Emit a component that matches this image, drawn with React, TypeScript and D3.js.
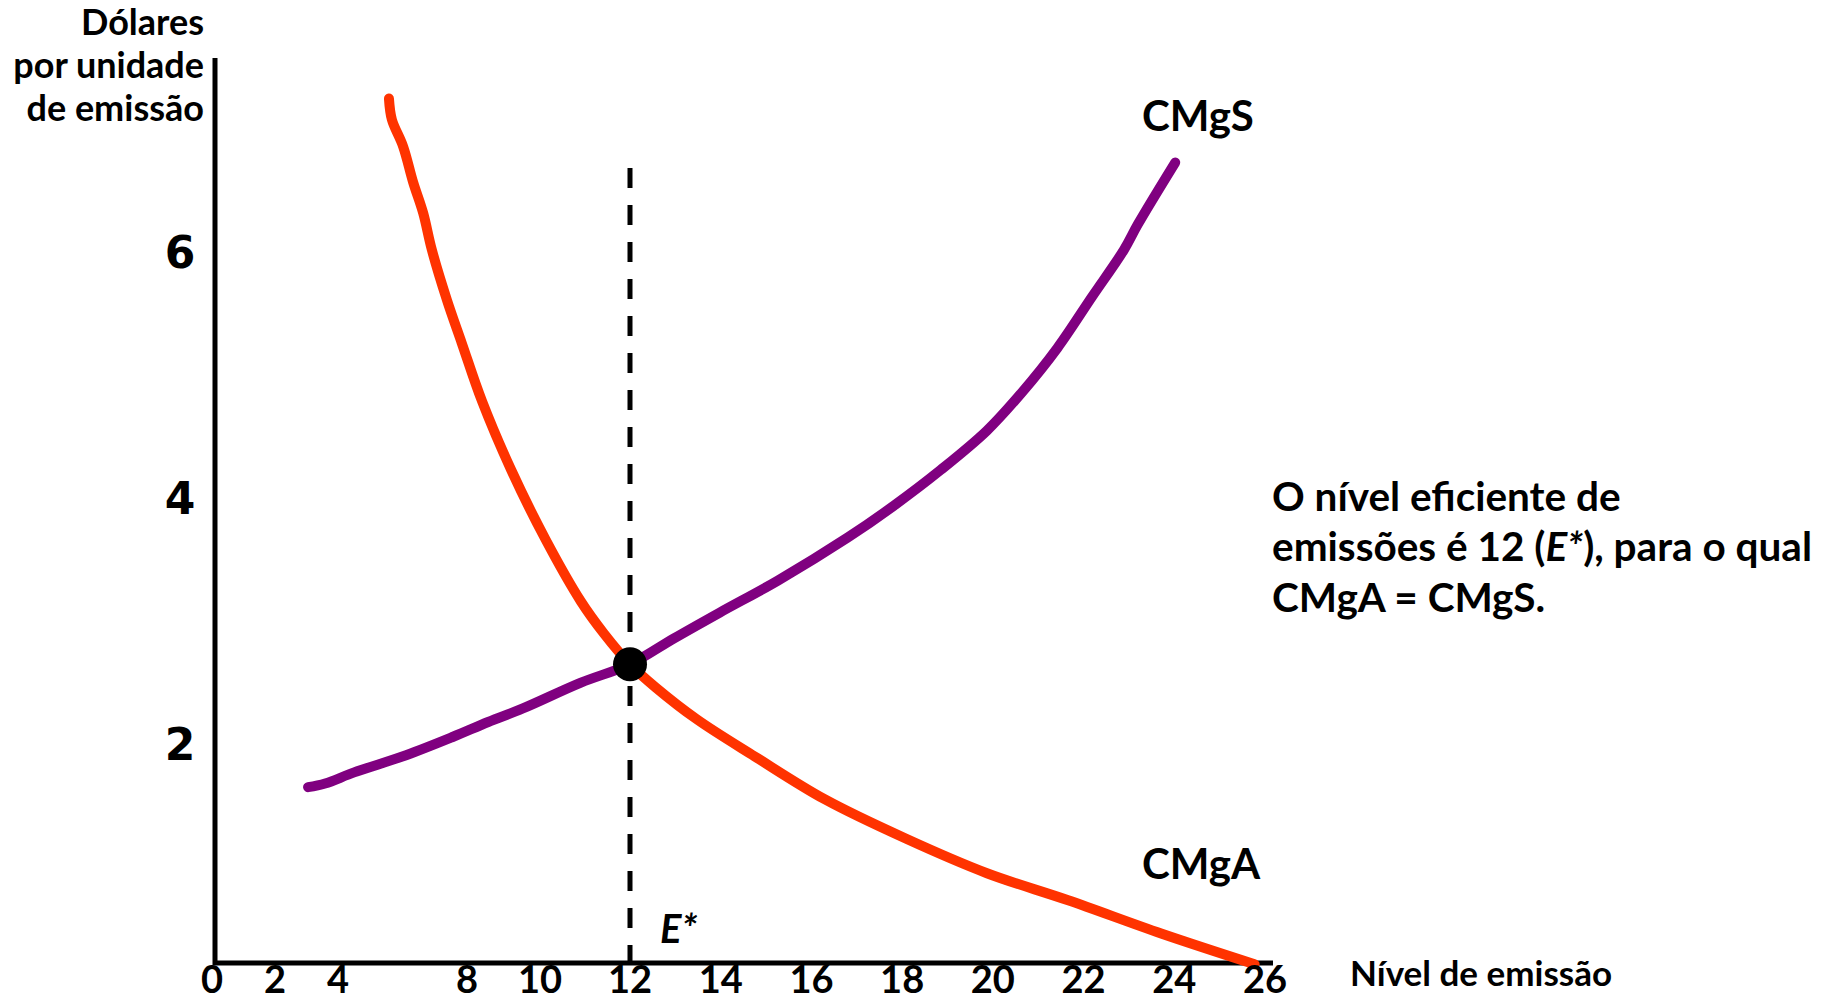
import React from "react";
import * as d3 from "d3";

// ---- data ----
const xTickValues = [0, 2, 4, 8, 10, 12, 14, 16, 18, 20, 22, 24, 26];
const yTickValues = [2, 4, 6];

// CMgA (marginal abatement cost) – red
const cmgaX = [5.58, 5.67, 6.02, 6.33, 6.64, 6.91, 7.38, 7.84, 8.41, 9.21, 10.13, 10.91, 11.42, 12, 12.57, 13.48, 14.75, 16.3, 18.09, 19.87, 21.66, 23.71, 25.77];
const cmgaY = [7.25, 7.08, 6.86, 6.57, 6.32, 6.02, 5.61, 5.26, 4.79, 4.23, 3.66, 3.16, 2.9, 2.65, 2.46, 2.2, 1.9, 1.55, 1.23, 0.95, 0.73, 0.46, 0.21];

// CMgS (marginal social cost) – purple
const cmgsX = [3.05, 3.59, 4.5, 6.11, 7.57, 8.58, 9.53, 10.91, 12, 12.97, 13.98, 15.26, 16.8, 17.82, 18.85, 19.87, 20.64, 21.42, 22.19, 22.89, 23.2, 24.02];
const cmgsY = [1.65, 1.68, 1.77, 1.91, 2.06, 2.18, 2.29, 2.5, 2.65, 2.86, 3.07, 3.33, 3.68, 3.94, 4.23, 4.55, 4.86, 5.22, 5.64, 6.02, 6.23, 6.73];

const eStarX = 12;
const eStarY = 2.65;

const yTitleLines = ["Dólares", "por unidade", "de emissão"];
const xTitle = "Nível de emissão";
const noteLine1 = "O nível eficiente de";
const noteLine3 = "CMgA = CMgS.";

// ---- layout ----
const W = 1821;
const H = 1002;
const axisX = 215;
const axisY = 963;
const axisTop = 58;
const axisRight = 1273;

const RED = "#FF3300";
const PURPLE = "#800080";
const FONT = "Lato, 'Open Sans', sans-serif";

export default function App() {
  // hand-drawn axis: piecewise linear x positions
  const x = d3
    .scaleLinear()
    .domain([0, 4, 8, 10, 12, 26])
    .range([212, 338, 467, 540, 630, 1265]);
  const y = d3.scaleLinear().domain([0.22, 7.58]).range([axisY, axisTop]);

  const line = d3
    .line<[number, number]>()
    .x((d) => x(d[0]))
    .y((d) => y(d[1]))
    .curve(d3.curveCatmullRom.alpha(0.5));

  const cmga = line(cmgaX.map((v, i) => [v, cmgaY[i]] as [number, number])) || "";
  const cmgs = line(cmgsX.map((v, i) => [v, cmgsY[i]] as [number, number])) || "";

  const ex = x(eStarX);
  const ey = y(eStarY);

  return (
    <svg
      width={W}
      height={H}
      style={{ position: "absolute", left: 0, top: 0, background: "#fff" }}
      fontFamily={FONT}
      fontWeight={700}
    >
      <rect x={0} y={0} width={W} height={H} fill="#fff" />

      {/* dashed E* line */}
      <line
        x1={ex}
        x2={ex}
        y1={168}
        y2={axisY}
        stroke="#000"
        strokeWidth={5}
        strokeDasharray="20 17"
      />

      {/* axes */}
      <line x1={axisX} x2={axisX} y1={axisTop} y2={axisY + 2} stroke="#000" strokeWidth={5} />
      <line x1={axisX - 2} x2={axisRight} y1={axisY} y2={axisY} stroke="#000" strokeWidth={5} />

      {/* curves */}
      <path d={cmga} fill="none" stroke={RED} strokeWidth={10} strokeLinecap="round" strokeLinejoin="round" />
      <path d={cmgs} fill="none" stroke={PURPLE} strokeWidth={10} strokeLinecap="round" strokeLinejoin="round" />

      {/* equilibrium point */}
      <circle cx={ex} cy={ey} r={17} fill="#000" />

      {/* x tick labels */}
      {xTickValues.map((t) => (
        <text key={"x" + t} x={x(t)} y={993} textAnchor="middle" fontSize={38} fill="#000">
          {t}
        </text>
      ))}

      {/* y tick labels */}
      {yTickValues.map((t) => (
        <text
          key={"y" + t}
          x={180}
          y={y(t)}
          dy="0.36em"
          textAnchor="middle"
          fontSize={44}
          fontFamily="'DejaVu Sans', Verdana, sans-serif"
          fill="#000"
        >
          {t}
        </text>
      ))}

      {/* y title */}
      {yTitleLines.map((s, i) => (
        <text key={s} x={204} y={35 + i * 43} textAnchor="end" fontSize={36} fill="#000">
          {s}
        </text>
      ))}

      {/* x title */}
      <text x={1350} y={986} fontSize={35} fill="#000">
        {xTitle}
      </text>

      {/* curve labels */}
      <text x={1142} y={131} fontSize={42} fill="#000">CMgS</text>
      <text x={1142} y={879} fontSize={42} fill="#000">CMgA</text>
      <text x={660} y={943} fontSize={40} fontStyle="italic" fill="#000">E*</text>

      {/* annotation */}
      <text x={1272} y={511} fontSize={40.5} fill="#000">{noteLine1}</text>
      <text x={1272} y={561} fontSize={40.5} fill="#000">
        emissões é 12 (<tspan fontStyle="italic">E*</tspan>), para o qual
      </text>
      <text x={1272} y={612} fontSize={40.5} fill="#000">{noteLine3}</text>
    </svg>
  );
}
